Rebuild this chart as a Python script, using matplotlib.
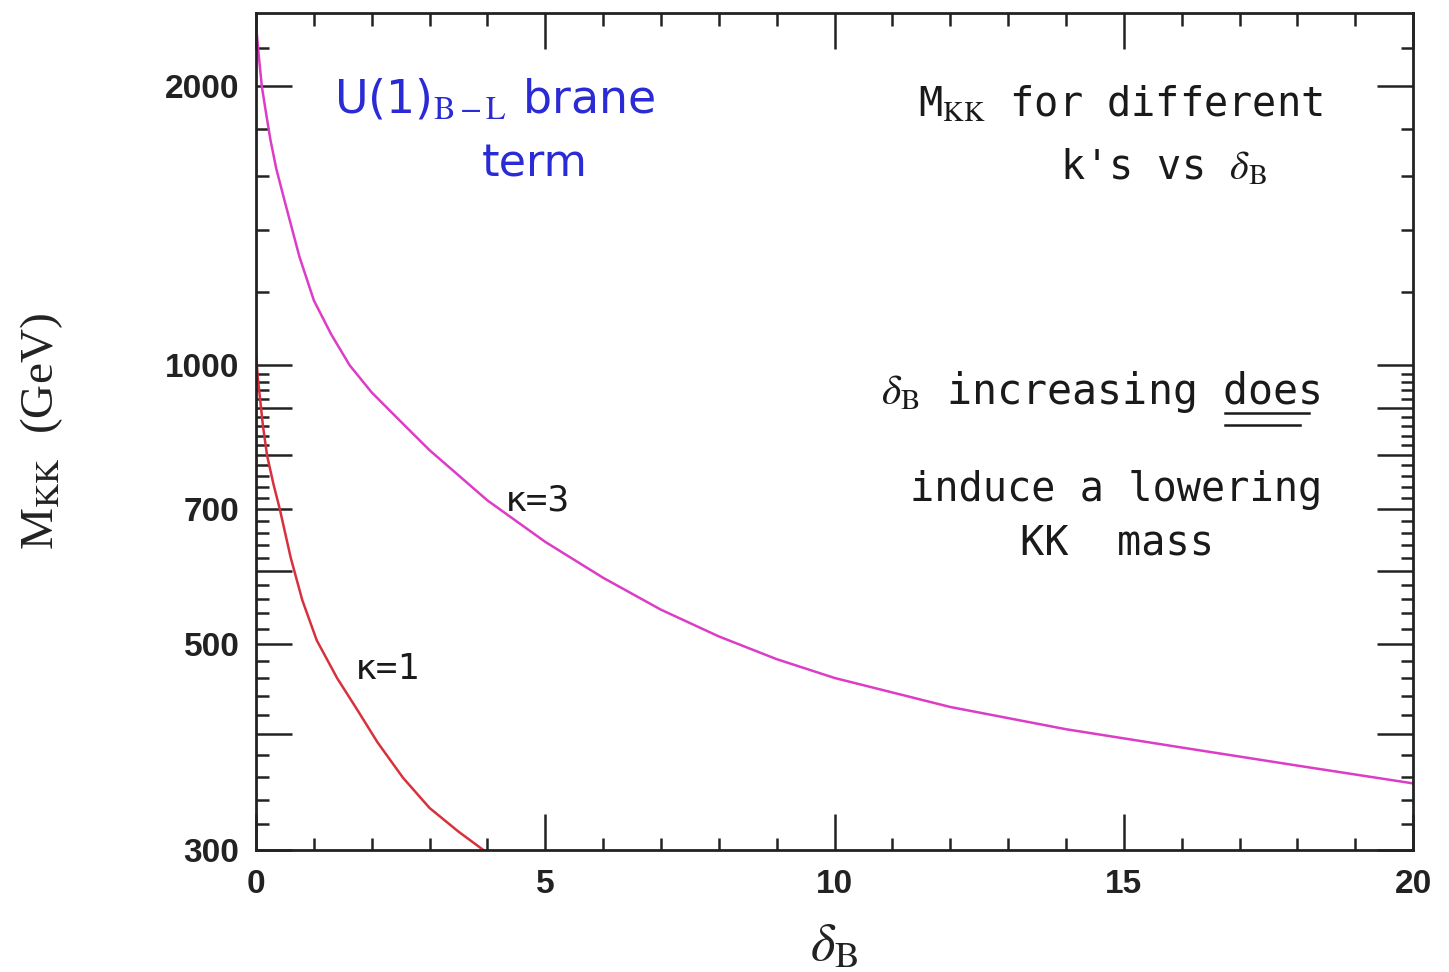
import matplotlib
matplotlib.use("Agg")
import matplotlib.pyplot as plt
from matplotlib.ticker import FixedLocator, FixedFormatter, MultipleLocator

# KK masses versus the brane kinetic term delta_B
delta_k3 = [0, 0.05, 0.1, 0.18, 0.25, 0.35, 0.5, 0.75, 1.0, 1.3, 1.62, 2, 2.5, 3,
            4, 5, 6, 7, 8, 9, 10, 12, 14, 16, 18, 20]
mass_k3 = [2330, 2150, 2000, 1860, 1750, 1630, 1500, 1310, 1175, 1080, 1000, 935,
           870, 810, 715, 645, 590, 545, 510, 482, 460, 428, 405, 387, 370, 354]

delta_k1 = [0, 0.03, 0.07, 0.12, 0.19, 0.3, 0.41, 0.6, 0.8, 1.05, 1.4, 1.75, 2.1,
            2.54, 3.0, 3.5, 3.93]
mass_k1 = [1030, 970, 920, 860, 800, 745, 700, 620, 558, 505, 460, 425, 392, 359,
           333, 314, 300]

y_major = [300, 400, 500, 600, 700, 800, 900, 1000, 2000]
y_labels = ["300", "", "500", "", "700", "", "", "1000", "2000"]
y_minor = [v for v in range(320, 1000, 20) if v % 100 != 0] + [1200, 1400, 1600, 1800, 2200]
x_major = [0, 5, 10, 15, 20]

plt.rcParams["mathtext.fontset"] = "stix"

fig = plt.figure(figsize=(14.49, 9.72), dpi=100)
ax = fig.add_axes([0.1767, 0.1255, 0.9752 - 0.1767, 0.9866 - 0.1255])

ax.plot(delta_k3, mass_k3, color="#dc3cc6", lw=1.8)
ax.plot(delta_k1, mass_k1, color="#d8303c", lw=1.8)

ax.set_yscale("log")
ax.set_xlim(0, 20)
ax.set_ylim(300, 2400)

ax.yaxis.set_major_locator(FixedLocator(y_major))
ax.yaxis.set_major_formatter(FixedFormatter(y_labels))
ax.yaxis.set_minor_locator(FixedLocator(y_minor))
ax.yaxis.set_minor_formatter(FixedFormatter([""] * len(y_minor)))
ax.xaxis.set_major_locator(FixedLocator(x_major))
ax.xaxis.set_minor_locator(MultipleLocator(1))

for s in ax.spines.values():
    s.set_linewidth(2.0)
    s.set_color("#222222")

ax.tick_params(which="both", direction="in", top=True, right=True, color="#222222")
ax.tick_params(which="major", length=26, width=1.8)
ax.tick_params(which="minor", length=9, width=1.8)
ax.tick_params(axis="x", which="major", pad=14)
ax.tick_params(axis="y", which="major", pad=12)
for lab in ax.get_xticklabels() + ax.get_yticklabels():
    lab.set_fontfamily("Liberation Sans")
    lab.set_fontweight("bold")
    lab.set_fontsize(24)
    lab.set_color("#222222")

ax.set_ylabel(r"M$_{\rm KK}$  (GeV)", fontsize=34, family="Liberation Serif",
              color="#222222", labelpad=72)
ax.set_xlabel(r"$\delta_{\rm B}$", fontsize=38, color="#222222", labelpad=14)

hand = dict(family="DejaVu Sans Mono", color="#1a1a1a")
blue = "#2b2bd6"

# annotations
ax.text(1.35, 1935, r"U(1)$_{\rm B-L}$ brane", fontsize=33, color=blue,
        family="DejaVu Sans", va="center", ha="left")
ax.text(3.9, 1650, "term", fontsize=32, color=blue, family="DejaVu Sans",
        va="center", ha="left")

ax.text(11.45, 1910, r"M$_{\rm KK}$ for different", fontsize=29, va="center",
        ha="left", **hand)
ax.text(13.9, 1630, r"k's vs $\delta_{\rm B}$", fontsize=29, va="center",
        ha="left", **hand)

ax.text(10.8, 935, r"$\delta_{\rm B}$ increasing does", fontsize=30, va="center",
        ha="left", **hand)
ax.plot([16.75, 18.2], [888, 888], color="#1a1a1a", lw=1.8)
ax.plot([16.75, 18.05], [862, 862], color="#1a1a1a", lw=1.8)
ax.text(11.3, 733, "induce a lowering", fontsize=29, va="center", ha="left", **hand)
ax.text(13.2, 643, "KK  mass", fontsize=29, va="center", ha="left", **hand)

ax.text(4.3, 715, "\u03ba=3", fontsize=26, va="center", ha="left", **hand)
ax.text(1.7, 470, "\u03ba=1", fontsize=26, va="center", ha="left", **hand)

fig.savefig("out.png", dpi=100)
